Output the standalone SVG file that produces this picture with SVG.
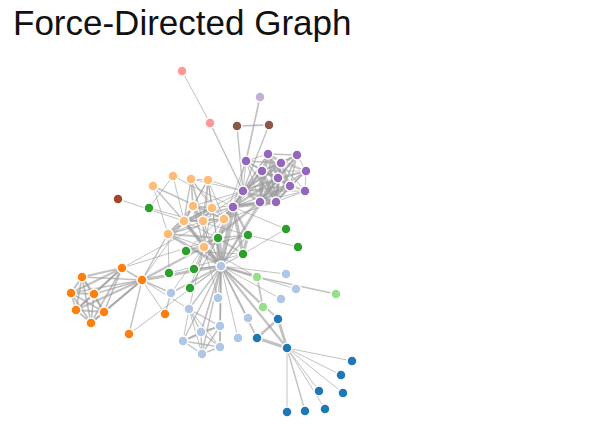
<svg xmlns="http://www.w3.org/2000/svg" width="600" height="441" viewBox="0 0 600 441">
<style>
.links line{stroke:#999;stroke-opacity:.6}
.a{stroke-width:1}.b{stroke-width:1.414}.c{stroke-width:1.732}.d{stroke-width:2}.e{stroke-width:2.236}.f{stroke-width:2.449}.g{stroke-width:2.646}.h{stroke-width:2.828}.i{stroke-width:3}.j{stroke-width:3.162}.k{stroke-width:3.464}.l{stroke-width:3.606}.m{stroke-width:3.873}.n{stroke-width:4.123}.o{stroke-width:4.359}.p{stroke-width:4.583}.q{stroke-width:5.568}
.nodes circle{stroke:#fff;stroke-width:1.5}
.g1{fill:#1f77b4}.g2{fill:#aec7e8}.g3{fill:#ff7f0e}.g4{fill:#ffbb78}.g5{fill:#2ca02c}.g0{fill:#98df8a}.g6{fill:#a0472a}.g7{fill:#ff9896}.g8{fill:#9467bd}.g9{fill:#c5b0d5}.g10{fill:#8c564b}
.title{font-family:"Liberation Sans",Arial,sans-serif;font-size:35px;fill:#111}
</style>
<rect width="600" height="441" fill="#fff"/>
<text class="title" x="13" y="35">Force-Directed Graph</text>
<g class="links">
<line class="a" x1="352" y1="361" x2="287" y2="348"/>
<line class="h" x1="278" y1="319" x2="287" y2="348"/>
<line class="j" x1="257" y1="338" x2="287" y2="348"/>
<line class="f" x1="257" y1="338" x2="278" y2="319"/>
<line class="a" x1="341" y1="375" x2="287" y2="348"/>
<line class="a" x1="343" y1="393" x2="287" y2="348"/>
<line class="a" x1="319" y1="391" x2="287" y2="348"/>
<line class="a" x1="325" y1="409" x2="287" y2="348"/>
<line class="b" x1="305" y1="411" x2="287" y2="348"/>
<line class="a" x1="287" y1="412" x2="287" y2="348"/>
<line class="a" x1="221" y1="266" x2="286" y2="274"/>
<line class="c" x1="221" y1="266" x2="257" y2="338"/>
<line class="c" x1="221" y1="266" x2="278" y2="319"/>
<line class="e" x1="221" y1="266" x2="287" y2="348"/>
<line class="a" x1="129" y1="334" x2="221" y2="266"/>
<line class="a" x1="296" y1="289" x2="221" y2="266"/>
<line class="a" x1="281" y1="299" x2="221" y2="266"/>
<line class="a" x1="248" y1="318" x2="221" y2="266"/>
<line class="d" x1="82" y1="277" x2="122" y2="268"/>
<line class="d" x1="71" y1="293" x2="122" y2="268"/>
<line class="d" x1="71" y1="293" x2="82" y2="277"/>
<line class="d" x1="94" y1="294" x2="122" y2="268"/>
<line class="d" x1="94" y1="294" x2="82" y2="277"/>
<line class="d" x1="94" y1="294" x2="71" y2="293"/>
<line class="c" x1="76" y1="310" x2="122" y2="268"/>
<line class="c" x1="76" y1="310" x2="82" y2="277"/>
<line class="c" x1="76" y1="310" x2="71" y2="293"/>
<line class="d" x1="76" y1="310" x2="94" y2="294"/>
<line class="c" x1="104" y1="312" x2="82" y2="277"/>
<line class="c" x1="104" y1="312" x2="71" y2="293"/>
<line class="c" x1="104" y1="312" x2="94" y2="294"/>
<line class="e" x1="104" y1="312" x2="76" y2="310"/>
<line class="c" x1="104" y1="312" x2="122" y2="268"/>
<line class="c" x1="91" y1="323" x2="82" y2="277"/>
<line class="c" x1="91" y1="323" x2="71" y2="293"/>
<line class="c" x1="91" y1="323" x2="94" y2="294"/>
<line class="d" x1="91" y1="323" x2="76" y2="310"/>
<line class="d" x1="91" y1="323" x2="104" y2="312"/>
<line class="c" x1="91" y1="323" x2="122" y2="268"/>
<line class="c" x1="142" y1="280" x2="82" y2="277"/>
<line class="c" x1="142" y1="280" x2="71" y2="293"/>
<line class="c" x1="142" y1="280" x2="94" y2="294"/>
<line class="d" x1="142" y1="280" x2="76" y2="310"/>
<line class="d" x1="142" y1="280" x2="104" y2="312"/>
<line class="c" x1="142" y1="280" x2="122" y2="268"/>
<line class="d" x1="142" y1="280" x2="91" y2="323"/>
<line class="b" x1="142" y1="280" x2="129" y2="334"/>
<line class="i" x1="142" y1="280" x2="221" y2="266"/>
<line class="b" x1="168" y1="234" x2="142" y2="280"/>
<line class="g" x1="168" y1="234" x2="221" y2="266"/>
<line class="l" x1="184" y1="221" x2="168" y2="234"/>
<line class="a" x1="184" y1="221" x2="142" y2="280"/>
<line class="k" x1="184" y1="221" x2="221" y2="266"/>
<line class="d" x1="218" y1="238" x2="168" y2="234"/>
<line class="q" x1="218" y1="238" x2="221" y2="266"/>
<line class="a" x1="218" y1="238" x2="122" y2="268"/>
<line class="a" x1="218" y1="238" x2="184" y2="221"/>
<line class="n" x1="204" y1="247" x2="221" y2="266"/>
<line class="e" x1="204" y1="247" x2="142" y2="280"/>
<line class="e" x1="204" y1="247" x2="184" y2="221"/>
<line class="a" x1="204" y1="247" x2="168" y2="234"/>
<line class="a" x1="204" y1="247" x2="218" y2="238"/>
<line class="h" x1="257" y1="277" x2="221" y2="266"/>
<line class="a" x1="257" y1="277" x2="204" y2="247"/>
<line class="a" x1="189" y1="309" x2="142" y2="280"/>
<line class="a" x1="189" y1="309" x2="204" y2="247"/>
<line class="b" x1="189" y1="309" x2="221" y2="266"/>
<line class="a" x1="165" y1="314" x2="142" y2="280"/>
<line class="b" x1="171" y1="293" x2="165" y2="314"/>
<line class="c" x1="171" y1="293" x2="221" y2="266"/>
<line class="b" x1="171" y1="293" x2="142" y2="280"/>
<line class="a" x1="171" y1="293" x2="204" y2="247"/>
<line class="a" x1="238" y1="338" x2="221" y2="266"/>
<line class="b" x1="218" y1="298" x2="221" y2="266"/>
<line class="a" x1="218" y1="298" x2="204" y2="247"/>
<line class="c" x1="220" y1="326" x2="221" y2="266"/>
<line class="b" x1="220" y1="326" x2="189" y2="309"/>
<line class="c" x1="201" y1="332" x2="221" y2="266"/>
<line class="c" x1="201" y1="332" x2="220" y2="326"/>
<line class="b" x1="201" y1="332" x2="189" y2="309"/>
<line class="b" x1="183" y1="341" x2="220" y2="326"/>
<line class="b" x1="183" y1="341" x2="201" y2="332"/>
<line class="b" x1="183" y1="341" x2="221" y2="266"/>
<line class="a" x1="183" y1="341" x2="189" y2="309"/>
<line class="b" x1="220" y1="347" x2="220" y2="326"/>
<line class="b" x1="220" y1="347" x2="201" y2="332"/>
<line class="b" x1="220" y1="347" x2="183" y2="341"/>
<line class="b" x1="220" y1="347" x2="221" y2="266"/>
<line class="a" x1="220" y1="347" x2="189" y2="309"/>
<line class="b" x1="202" y1="354" x2="220" y2="326"/>
<line class="b" x1="202" y1="354" x2="201" y2="332"/>
<line class="b" x1="202" y1="354" x2="183" y2="341"/>
<line class="b" x1="202" y1="354" x2="220" y2="347"/>
<line class="b" x1="202" y1="354" x2="221" y2="266"/>
<line class="a" x1="202" y1="354" x2="189" y2="309"/>
<line class="a" x1="173" y1="176" x2="184" y2="221"/>
<line class="a" x1="118" y1="199" x2="184" y2="221"/>
<line class="b" x1="224" y1="219" x2="168" y2="234"/>
<line class="c" x1="224" y1="219" x2="184" y2="221"/>
<line class="b" x1="153" y1="186" x2="224" y2="219"/>
<line class="b" x1="153" y1="186" x2="184" y2="221"/>
<line class="a" x1="153" y1="186" x2="168" y2="234"/>
<line class="c" x1="194" y1="269" x2="221" y2="266"/>
<line class="a" x1="194" y1="269" x2="218" y2="238"/>
<line class="a" x1="194" y1="269" x2="204" y2="247"/>
<line class="c" x1="263" y1="307" x2="257" y2="277"/>
<line class="a" x1="263" y1="307" x2="221" y2="266"/>
<line class="b" x1="336" y1="294" x2="257" y2="277"/>
<line class="a" x1="210" y1="123" x2="182" y2="71"/>
<line class="b" x1="243" y1="191" x2="210" y2="123"/>
<line class="a" x1="243" y1="191" x2="184" y2="221"/>
<line class="a" x1="243" y1="191" x2="204" y2="247"/>
<line class="a" x1="243" y1="191" x2="221" y2="266"/>
<line class="c" x1="243" y1="254" x2="218" y2="238"/>
<line class="b" x1="243" y1="254" x2="221" y2="266"/>
<line class="a" x1="169" y1="273" x2="243" y2="254"/>
<line class="a" x1="169" y1="273" x2="168" y2="234"/>
<line class="i" x1="248" y1="235" x2="243" y2="254"/>
<line class="b" x1="248" y1="235" x2="218" y2="238"/>
<line class="b" x1="248" y1="235" x2="221" y2="266"/>
<line class="a" x1="149" y1="208" x2="248" y2="235"/>
<line class="a" x1="149" y1="208" x2="173" y2="176"/>
<line class="a" x1="298" y1="247" x2="248" y2="235"/>
<line class="b" x1="186" y1="251" x2="248" y2="235"/>
<line class="a" x1="186" y1="251" x2="243" y2="254"/>
<line class="a" x1="186" y1="251" x2="218" y2="238"/>
<line class="f" x1="233" y1="207" x2="248" y2="235"/>
<line class="k" x1="233" y1="207" x2="243" y2="254"/>
<line class="a" x1="233" y1="207" x2="173" y2="176"/>
<line class="a" x1="233" y1="207" x2="186" y2="251"/>
<line class="p" x1="233" y1="207" x2="218" y2="238"/>
<line class="o" x1="233" y1="207" x2="221" y2="266"/>
<line class="a" x1="233" y1="207" x2="122" y2="268"/>
<line class="b" x1="233" y1="207" x2="184" y2="221"/>
<line class="e" x1="233" y1="207" x2="224" y2="219"/>
<line class="d" x1="233" y1="207" x2="243" y2="191"/>
<line class="a" x1="286" y1="229" x2="243" y2="254"/>
<line class="a" x1="286" y1="229" x2="233" y2="207"/>
<line class="a" x1="246" y1="161" x2="233" y2="207"/>
<line class="a" x1="246" y1="161" x2="224" y2="219"/>
<line class="a" x1="246" y1="161" x2="243" y2="191"/>
<line class="g" x1="260" y1="202" x2="233" y2="207"/>
<line class="g" x1="260" y1="202" x2="243" y2="191"/>
<line class="f" x1="260" y1="202" x2="204" y2="247"/>
<line class="a" x1="260" y1="202" x2="246" y2="161"/>
<line class="d" x1="260" y1="202" x2="221" y2="266"/>
<line class="m" x1="262" y1="171" x2="260" y2="202"/>
<line class="e" x1="262" y1="171" x2="233" y2="207"/>
<line class="f" x1="262" y1="171" x2="243" y2="191"/>
<line class="b" x1="262" y1="171" x2="246" y2="161"/>
<line class="a" x1="297" y1="155" x2="243" y2="191"/>
<line class="d" x1="297" y1="155" x2="260" y2="202"/>
<line class="b" x1="297" y1="155" x2="262" y2="171"/>
<line class="b" x1="268" y1="154" x2="243" y2="191"/>
<line class="f" x1="268" y1="154" x2="260" y2="202"/>
<line class="b" x1="268" y1="154" x2="297" y2="155"/>
<line class="e" x1="268" y1="154" x2="262" y2="171"/>
<line class="a" x1="268" y1="154" x2="246" y2="161"/>
<line class="a" x1="268" y1="154" x2="233" y2="207"/>
<line class="i" x1="276" y1="202" x2="233" y2="207"/>
<line class="n" x1="276" y1="202" x2="260" y2="202"/>
<line class="l" x1="276" y1="202" x2="262" y2="171"/>
<line class="g" x1="276" y1="202" x2="243" y2="191"/>
<line class="b" x1="276" y1="202" x2="246" y2="161"/>
<line class="a" x1="276" y1="202" x2="224" y2="219"/>
<line class="f" x1="276" y1="202" x2="268" y2="154"/>
<line class="c" x1="276" y1="202" x2="297" y2="155"/>
<line class="e" x1="281" y1="163" x2="262" y2="171"/>
<line class="e" x1="281" y1="163" x2="243" y2="191"/>
<line class="f" x1="281" y1="163" x2="276" y2="202"/>
<line class="b" x1="281" y1="163" x2="246" y2="161"/>
<line class="d" x1="281" y1="163" x2="260" y2="202"/>
<line class="c" x1="281" y1="163" x2="268" y2="154"/>
<line class="b" x1="281" y1="163" x2="297" y2="155"/>
<line class="a" x1="281" y1="163" x2="233" y2="207"/>
<line class="e" x1="278" y1="178" x2="233" y2="207"/>
<line class="k" x1="278" y1="178" x2="276" y2="202"/>
<line class="e" x1="278" y1="178" x2="243" y2="191"/>
<line class="d" x1="278" y1="178" x2="281" y2="163"/>
<line class="j" x1="278" y1="178" x2="260" y2="202"/>
<line class="f" x1="278" y1="178" x2="268" y2="154"/>
<line class="b" x1="278" y1="178" x2="297" y2="155"/>
<line class="i" x1="278" y1="178" x2="262" y2="171"/>
<line class="a" x1="278" y1="178" x2="246" y2="161"/>
<line class="a" x1="278" y1="178" x2="221" y2="266"/>
<line class="e" x1="290" y1="186" x2="281" y2="163"/>
<line class="g" x1="290" y1="186" x2="278" y2="178"/>
<line class="c" x1="290" y1="186" x2="243" y2="191"/>
<line class="e" x1="290" y1="186" x2="276" y2="202"/>
<line class="e" x1="290" y1="186" x2="260" y2="202"/>
<line class="e" x1="290" y1="186" x2="268" y2="154"/>
<line class="b" x1="290" y1="186" x2="297" y2="155"/>
<line class="e" x1="290" y1="186" x2="262" y2="171"/>
<line class="a" x1="290" y1="186" x2="246" y2="161"/>
<line class="b" x1="290" y1="186" x2="233" y2="207"/>
<line class="c" x1="306" y1="171" x2="278" y2="178"/>
<line class="c" x1="306" y1="171" x2="260" y2="202"/>
<line class="a" x1="306" y1="171" x2="262" y2="171"/>
<line class="b" x1="306" y1="171" x2="276" y2="202"/>
<line class="b" x1="306" y1="171" x2="290" y2="186"/>
<line class="a" x1="306" y1="171" x2="243" y2="191"/>
<line class="a" x1="306" y1="171" x2="281" y2="163"/>
<line class="a" x1="306" y1="171" x2="268" y2="154"/>
<line class="a" x1="306" y1="171" x2="297" y2="155"/>
<line class="c" x1="260" y1="97" x2="246" y2="161"/>
<line class="e" x1="203" y1="221" x2="184" y2="221"/>
<line class="a" x1="203" y1="221" x2="221" y2="266"/>
<line class="a" x1="203" y1="221" x2="168" y2="234"/>
<line class="a" x1="203" y1="221" x2="204" y2="247"/>
<line class="a" x1="203" y1="221" x2="243" y2="191"/>
<line class="a" x1="203" y1="221" x2="224" y2="219"/>
<line class="f" x1="193" y1="206" x2="184" y2="221"/>
<line class="f" x1="193" y1="206" x2="203" y2="221"/>
<line class="a" x1="193" y1="206" x2="221" y2="266"/>
<line class="a" x1="193" y1="206" x2="168" y2="234"/>
<line class="b" x1="193" y1="206" x2="204" y2="247"/>
<line class="a" x1="193" y1="206" x2="243" y2="191"/>
<line class="a" x1="193" y1="206" x2="224" y2="219"/>
<line class="d" x1="212" y1="208" x2="184" y2="221"/>
<line class="d" x1="212" y1="208" x2="193" y2="206"/>
<line class="d" x1="212" y1="208" x2="203" y2="221"/>
<line class="a" x1="212" y1="208" x2="221" y2="266"/>
<line class="a" x1="212" y1="208" x2="168" y2="234"/>
<line class="a" x1="212" y1="208" x2="204" y2="247"/>
<line class="a" x1="212" y1="208" x2="224" y2="219"/>
<line class="a" x1="212" y1="208" x2="260" y2="202"/>
<line class="a" x1="208" y1="180" x2="204" y2="247"/>
<line class="b" x1="208" y1="180" x2="193" y2="206"/>
<line class="b" x1="208" y1="180" x2="203" y2="221"/>
<line class="b" x1="208" y1="180" x2="212" y2="208"/>
<line class="a" x1="208" y1="180" x2="221" y2="266"/>
<line class="a" x1="208" y1="180" x2="243" y2="191"/>
<line class="a" x1="208" y1="180" x2="224" y2="219"/>
<line class="a" x1="208" y1="180" x2="184" y2="221"/>
<line class="b" x1="190" y1="288" x2="218" y2="238"/>
<line class="a" x1="190" y1="288" x2="204" y2="247"/>
<line class="a" x1="190" y1="288" x2="221" y2="266"/>
<line class="b" x1="237" y1="126" x2="243" y2="191"/>
<line class="b" x1="269" y1="125" x2="243" y2="191"/>
<line class="c" x1="269" y1="125" x2="237" y2="126"/>
<line class="c" x1="191" y1="179" x2="193" y2="206"/>
<line class="c" x1="191" y1="179" x2="203" y2="221"/>
<line class="b" x1="191" y1="179" x2="184" y2="221"/>
<line class="a" x1="191" y1="179" x2="243" y2="191"/>
<line class="a" x1="191" y1="179" x2="224" y2="219"/>
<line class="a" x1="191" y1="179" x2="212" y2="208"/>
<line class="a" x1="191" y1="179" x2="208" y2="180"/>
<line class="a" x1="305" y1="191" x2="278" y2="178"/>
<line class="a" x1="305" y1="191" x2="290" y2="186"/>
<line class="a" x1="305" y1="191" x2="306" y2="171"/>
<line class="a" x1="305" y1="191" x2="281" y2="163"/>
<line class="a" x1="305" y1="191" x2="276" y2="202"/>
<line class="a" x1="305" y1="191" x2="243" y2="191"/>
<line class="a" x1="305" y1="191" x2="260" y2="202"/>
</g>
<g class="nodes">
<g id="Myriel"><circle class="g1" cx="287" cy="348" r="5"/></g>
<g id="Napoleon"><circle class="g1" cx="352" cy="361" r="5"/></g>
<g id="Mlle.Baptistine"><circle class="g1" cx="278" cy="319" r="5"/></g>
<g id="Mme.Magloire"><circle class="g1" cx="257" cy="338" r="5"/></g>
<g id="CountessdeLo"><circle class="g1" cx="341" cy="375" r="5"/></g>
<g id="Geborand"><circle class="g1" cx="343" cy="393" r="5"/></g>
<g id="Champtercier"><circle class="g1" cx="319" cy="391" r="5"/></g>
<g id="Cravatte"><circle class="g1" cx="325" cy="409" r="5"/></g>
<g id="Count"><circle class="g1" cx="305" cy="411" r="5"/></g>
<g id="OldMan"><circle class="g1" cx="287" cy="412" r="5"/></g>
<g id="Labarre"><circle class="g2" cx="286" cy="274" r="5"/></g>
<g id="Valjean"><circle class="g2" cx="221" cy="266" r="5"/></g>
<g id="Marguerite"><circle class="g3" cx="129" cy="334" r="5"/></g>
<g id="Mme.deR"><circle class="g2" cx="296" cy="289" r="5"/></g>
<g id="Isabeau"><circle class="g2" cx="281" cy="299" r="5"/></g>
<g id="Gervais"><circle class="g2" cx="248" cy="318" r="5"/></g>
<g id="Tholomyes"><circle class="g3" cx="122" cy="268" r="5"/></g>
<g id="Listolier"><circle class="g3" cx="82" cy="277" r="5"/></g>
<g id="Fameuil"><circle class="g3" cx="71" cy="293" r="5"/></g>
<g id="Blacheville"><circle class="g3" cx="94" cy="294" r="5"/></g>
<g id="Favourite"><circle class="g3" cx="76" cy="310" r="5"/></g>
<g id="Dahlia"><circle class="g3" cx="104" cy="312" r="5"/></g>
<g id="Zephine"><circle class="g3" cx="91" cy="323" r="5"/></g>
<g id="Fantine"><circle class="g3" cx="142" cy="280" r="5"/></g>
<g id="Mme.Thenardier"><circle class="g4" cx="168" cy="234" r="5"/></g>
<g id="Thenardier"><circle class="g4" cx="184" cy="221" r="5"/></g>
<g id="Cosette"><circle class="g5" cx="218" cy="238" r="5"/></g>
<g id="Javert"><circle class="g4" cx="204" cy="247" r="5"/></g>
<g id="Fauchelevent"><circle class="g0" cx="257" cy="277" r="5"/></g>
<g id="Bamatabois"><circle class="g2" cx="189" cy="309" r="5"/></g>
<g id="Perpetue"><circle class="g3" cx="165" cy="314" r="5"/></g>
<g id="Simplice"><circle class="g2" cx="171" cy="293" r="5"/></g>
<g id="Scaufflaire"><circle class="g2" cx="238" cy="338" r="5"/></g>
<g id="Woman1"><circle class="g2" cx="218" cy="298" r="5"/></g>
<g id="Judge"><circle class="g2" cx="220" cy="326" r="5"/></g>
<g id="Champmathieu"><circle class="g2" cx="201" cy="332" r="5"/></g>
<g id="Brevet"><circle class="g2" cx="183" cy="341" r="5"/></g>
<g id="Chenildieu"><circle class="g2" cx="220" cy="347" r="5"/></g>
<g id="Cochepaille"><circle class="g2" cx="202" cy="354" r="5"/></g>
<g id="Pontmercy"><circle class="g4" cx="173" cy="176" r="5"/></g>
<g id="Boulatruelle"><circle class="g6" cx="118" cy="199" r="5"/></g>
<g id="Eponine"><circle class="g4" cx="224" cy="219" r="5"/></g>
<g id="Anzelma"><circle class="g4" cx="153" cy="186" r="5"/></g>
<g id="Woman2"><circle class="g5" cx="194" cy="269" r="5"/></g>
<g id="MotherInnocent"><circle class="g0" cx="263" cy="307" r="5"/></g>
<g id="Gribier"><circle class="g0" cx="336" cy="294" r="5"/></g>
<g id="Jondrette"><circle class="g7" cx="182" cy="71" r="5"/></g>
<g id="Mme.Burgon"><circle class="g7" cx="210" cy="123" r="5"/></g>
<g id="Gavroche"><circle class="g8" cx="243" cy="191" r="5"/></g>
<g id="Gillenormand"><circle class="g5" cx="243" cy="254" r="5"/></g>
<g id="Magnon"><circle class="g5" cx="169" cy="273" r="5"/></g>
<g id="Mlle.Gillenormand"><circle class="g5" cx="248" cy="235" r="5"/></g>
<g id="Mme.Pontmercy"><circle class="g5" cx="149" cy="208" r="5"/></g>
<g id="Mlle.Vaubois"><circle class="g5" cx="298" cy="247" r="5"/></g>
<g id="Lt.Gillenormand"><circle class="g5" cx="186" cy="251" r="5"/></g>
<g id="Marius"><circle class="g8" cx="233" cy="207" r="5"/></g>
<g id="BaronessT"><circle class="g5" cx="286" cy="229" r="5"/></g>
<g id="Mabeuf"><circle class="g8" cx="246" cy="161" r="5"/></g>
<g id="Enjolras"><circle class="g8" cx="260" cy="202" r="5"/></g>
<g id="Combeferre"><circle class="g8" cx="262" cy="171" r="5"/></g>
<g id="Prouvaire"><circle class="g8" cx="297" cy="155" r="5"/></g>
<g id="Feuilly"><circle class="g8" cx="268" cy="154" r="5"/></g>
<g id="Courfeyrac"><circle class="g8" cx="276" cy="202" r="5"/></g>
<g id="Bahorel"><circle class="g8" cx="281" cy="163" r="5"/></g>
<g id="Bossuet"><circle class="g8" cx="278" cy="178" r="5"/></g>
<g id="Joly"><circle class="g8" cx="290" cy="186" r="5"/></g>
<g id="Grantaire"><circle class="g8" cx="306" cy="171" r="5"/></g>
<g id="MotherPlutarch"><circle class="g9" cx="260" cy="97" r="5"/></g>
<g id="Gueulemer"><circle class="g4" cx="203" cy="221" r="5"/></g>
<g id="Babet"><circle class="g4" cx="193" cy="206" r="5"/></g>
<g id="Claquesous"><circle class="g4" cx="212" cy="208" r="5"/></g>
<g id="Montparnasse"><circle class="g4" cx="208" cy="180" r="5"/></g>
<g id="Toussaint"><circle class="g5" cx="190" cy="288" r="5"/></g>
<g id="Child1"><circle class="g10" cx="237" cy="126" r="5"/></g>
<g id="Child2"><circle class="g10" cx="269" cy="125" r="5"/></g>
<g id="Brujon"><circle class="g4" cx="191" cy="179" r="5"/></g>
<g id="Mme.Hucheloup"><circle class="g8" cx="305" cy="191" r="5"/></g>
</g>
</svg>
